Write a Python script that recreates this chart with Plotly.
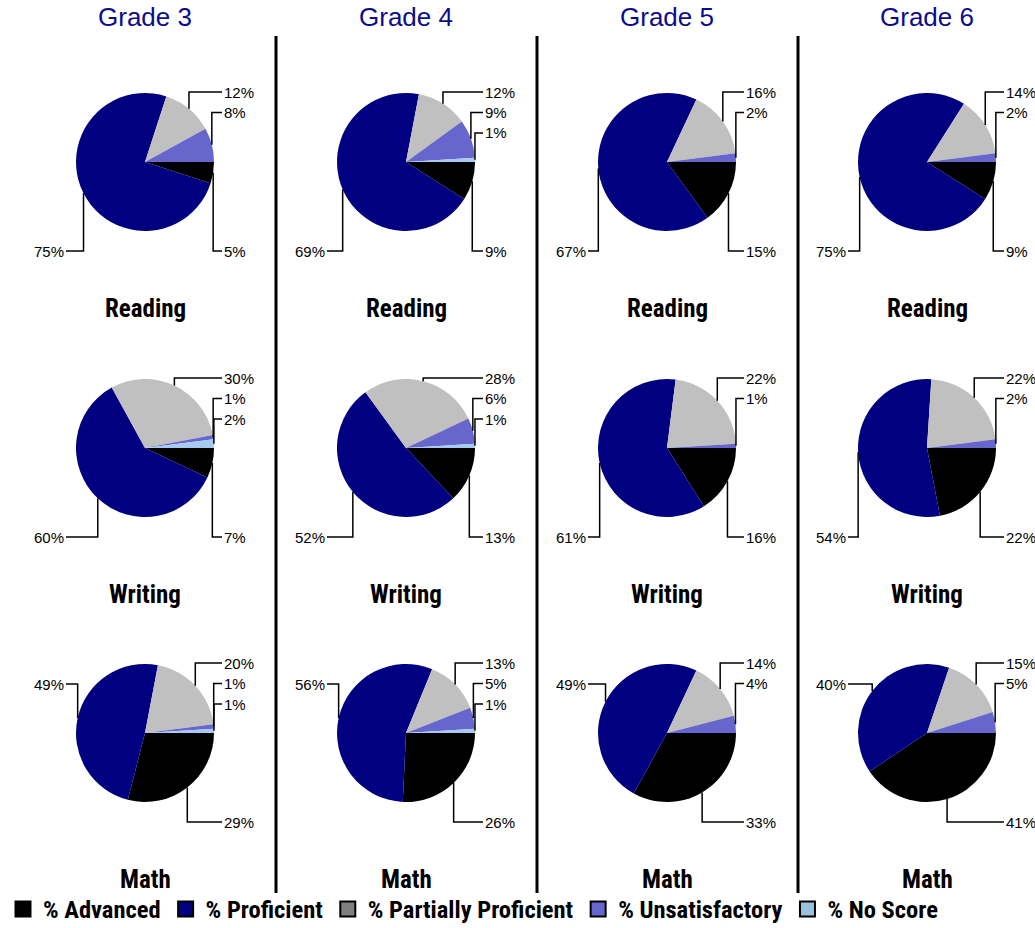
import math
import plotly.graph_objects as go

W, H = 1035, 928

grades = ["Grade 3", "Grade 4", "Grade 5", "Grade 6"]
subjects = ["Reading", "Writing", "Math"]
categories = ["% Advanced", "% Proficient", "% Partially Proficient",
              "% Unsatisfactory", "% No Score"]

# values per grade: [Advanced, Proficient, Partially Proficient, Unsatisfactory, No Score]
reading_values = [[5, 75, 12, 8, 0], [9, 69, 12, 9, 1], [15, 67, 16, 2, 0], [9, 75, 14, 2, 0]]
writing_values = [[7, 60, 30, 1, 2], [13, 52, 28, 6, 1], [16, 61, 22, 1, 0], [22, 54, 22, 2, 0]]
math_values = [[29, 49, 20, 1, 1], [26, 56, 13, 5, 1], [33, 49, 14, 4, 0], [41, 40, 15, 5, 0]]
subject_values = [reading_values, writing_values, math_values]

slice_colors = ["#000000", "#000080", "#c0c0c0", "#6666cc", "#a6caf0"]
legend_colors = ["#000000", "#000080", "#808080", "#6666cc", "#99c2e0"]

# layout (page pixels)
col_cx = [145, 406, 667, 927]
row_cy = [162, 448, 733]
R = 69
ROT = 90
TITLE_BLUE = "#0c0c8c"
NARROW = "Roboto Condensed, Liberation Sans Narrow, Arial Narrow, DejaVu Sans Condensed, sans-serif"
REG = "Liberation Sans, Arial, Helvetica, sans-serif"


def px(x):
    return x / W


def py(y):
    return 1 - y / H


fig = go.Figure()
shapes = []
annotations = []

for r, subj in enumerate(subjects):
    for c, grade in enumerate(grades):
        vals = subject_values[r][c]
        cx, cy = col_cx[c], row_cy[r]
        fig.add_trace(go.Pie(
            labels=categories, values=vals, sort=False, direction="clockwise",
            rotation=ROT, textinfo="none", hoverinfo="label+value",
            marker=dict(colors=slice_colors, line=dict(width=0)),
            domain=dict(x=[px(cx - R), px(cx + R)], y=[py(cy + R), py(cy - R)]),
            showlegend=False,
        ))
        # leader lines + labels
        total = float(sum(vals))
        cum = 0.0
        right_top_levels = [cy - 70, cy - 49.5, cy - 29]
        rt_i = 0
        for v in vals:
            if v <= 0:
                cum += v
                continue
            a = math.radians(ROT + 360.0 * (cum + v / 2.0) / total)
            cum += v
            ex = cx + R * math.sin(a)
            ey = cy - R * math.cos(a)
            right = math.sin(a) >= 0
            top = ey < cy
            if right:
                lx = cx + 77
                if top:
                    ly = right_top_levels[min(rt_i, 2)]
                    rt_i += 1
                else:
                    ly = cy + 89
            else:
                lx = cx - 79
                ly = cy - 49 if top else cy + 89
            shapes.append(dict(
                type="path", xref="paper", yref="paper",
                path=f"M {px(ex)},{py(ey)} L {px(ex)},{py(ly)} L {px(lx)},{py(ly)}",
                line=dict(color="black", width=1.5),
            ))
            annotations.append(dict(
                x=px(lx), y=py(ly), xref="paper", yref="paper",
                text=f"{v}%", showarrow=False,
                xanchor="left" if right else "right", yanchor="middle",
                font=dict(family=REG, size=15, color="black"),
            ))
        # subject label
        annotations.append(dict(
            x=px(cx), y=py(cy + 146), xref="paper", yref="paper", text=subj,
            showarrow=False, xanchor="center", yanchor="middle",
            font=dict(family=NARROW, size=25, color="black", weight="bold"),
        ))

for c, grade in enumerate(grades):
    annotations.append(dict(
        x=px(col_cx[c]), y=py(17), xref="paper", yref="paper", text=grade,
        showarrow=False, xanchor="center", yanchor="middle",
        font=dict(family=REG, size=26, color=TITLE_BLUE),
    ))

# column separators
for xsep in [276, 537, 798]:
    shapes.append(dict(type="line", xref="paper", yref="paper",
                       x0=px(xsep), x1=px(xsep), y0=py(36), y1=py(893),
                       line=dict(color="black", width=3)))

# legend entries
for name, col in zip(categories, legend_colors):
    fig.add_trace(go.Scatter(
        x=[None], y=[None], mode="markers", name=name,
        marker=dict(symbol="square", size=15, color=col,
                    line=dict(color="black", width=2)),
        showlegend=True, hoverinfo="skip",
    ))

fig.update_layout(
    width=W, height=H,
    margin=dict(l=0, r=0, t=0, b=0, autoexpand=False),
    paper_bgcolor="white", plot_bgcolor="white",
    xaxis=dict(visible=False), yaxis=dict(visible=False),
    shapes=shapes, annotations=annotations,
    legend=dict(orientation="h", x=px(3), xanchor="left", y=py(909), yanchor="middle",
                font=dict(family=NARROW, size=24.5, color="black", weight="bold"),
                bgcolor="rgba(0,0,0,0)", itemclick=False, itemdoubleclick=False,
                tracegroupgap=0),
)

fig.write_html(
    "out.html",
    config={"displayModeBar": False},
    post_script="document.body.style.margin='0';document.body.style.overflow='hidden';",
)
